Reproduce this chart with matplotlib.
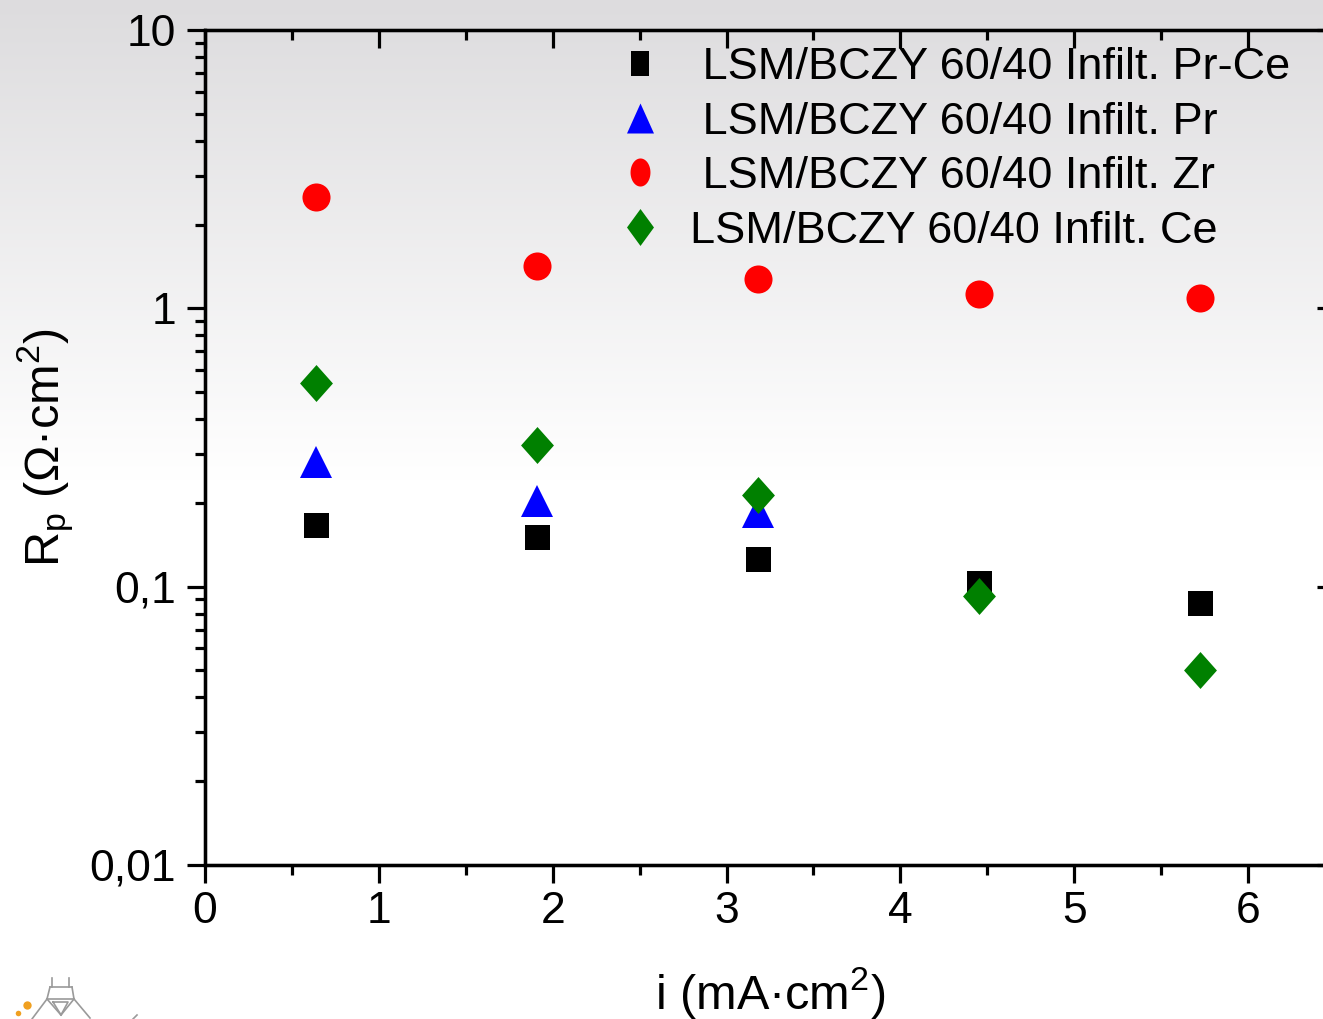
import numpy as np
import matplotlib
matplotlib.use('Agg')
import matplotlib.pyplot as plt
from matplotlib.path import Path
from matplotlib.lines import Line2D
from matplotlib.ticker import FixedLocator, FixedFormatter, LogLocator, MultipleLocator, NullFormatter

plt.rcParams['font.family'] = ['Liberation Sans', 'DejaVu Sans']
plt.rcParams['mathtext.fontset'] = 'custom'
plt.rcParams['mathtext.rm'] = 'Liberation Sans'
plt.rcParams['mathtext.it'] = 'Liberation Sans:italic'
plt.rcParams['mathtext.bf'] = 'Liberation Sans:bold'

# ---------------- data ----------------
current_density = [0.636, 1.908, 3.18, 4.452, 5.724]
current_density_pr = [0.636, 1.908, 3.18]
rp_pr_ce = [0.167, 0.151, 0.126, 0.103, 0.0874]
rp_pr = [0.28, 0.203, 0.185]
rp_zr = [2.51, 1.42, 1.27, 1.13, 1.09]
rp_ce = [0.54, 0.323, 0.214, 0.0926, 0.0502]

series_labels = [' LSM/BCZY 60/40 Infilt. Pr-Ce',
                 ' LSM/BCZY 60/40 Infilt. Pr',
                 ' LSM/BCZY 60/40 Infilt. Zr',
                 'LSM/BCZY 60/40 Infilt. Ce']
x_ticks = [0, 1, 2, 3, 4, 5, 6]
x_tick_labels = ['0', '1', '2', '3', '4', '5', '6']
y_ticks = [0.01, 0.1, 1, 10]
y_tick_labels = ['0,01', '0,1', '1', '10']
x_label = 'i (mA·cm$^\\mathregular{2}$)'
y_label = 'R$_\\mathregular{p}$ (Ω·cm$^\\mathregular{2}$)'

W, H = 1323, 1019
fig = plt.figure(figsize=(W / 100, H / 100), dpi=100)

# background gradient
bg = fig.add_axes([0, 0, 1, 1], zorder=-10)
rows = np.arange(H)
t = np.clip(rows / 480.0, 0, 1)
top = np.array([221, 220, 222]) / 255.0
grad = top[None, :] * (1 - t[:, None]) + np.ones(3)[None, :] * t[:, None]
bg.imshow(grad[:, None, :], aspect='auto', extent=[0, 1, 0, 1], origin='upper')
bg.axis('off')

# logo decoration (partially cropped at the bottom-left)
lg = fig.add_axes([0, 0, 1, 1], zorder=-5)
lg.set_xlim(0, W)
lg.set_ylim(H, 0)
lg.axis('off')
logo_segments = [
    ([52, 52], [978, 987]), ([69, 69], [978, 987]),
    ([50, 72], [987, 987]), ([50, 47], [987, 999]), ([72, 74], [987, 999]),
    ([47, 74], [999, 999]),
    ([53, 68, 61, 53], [1002, 1002, 1015, 1002]),
    ([47, 32], [999, 1019]), ([74, 90], [999, 1018]),
    ([47, 61], [999, 1015]), ([74, 61], [999, 1015]),
]
for xs, ys in logo_segments:
    lg.plot(xs, ys, color='#9a9a9a', lw=1.2)
lg.plot([27], [1005], 'o', color='#f0a020', ms=6, mew=0)
lg.plot([18], [1013], 'o', color='#f0a020', ms=4, mew=0)
lg.plot([133, 137], [1019, 1015], color='#9a9a9a', lw=1.2)

# main axes
L, R, T, B = 205, 1335, 30, 865
ax = fig.add_axes([L / W, (H - B) / H, (R - L) / W, (B - T) / H], zorder=1)
ax.set_facecolor('none')
ax.set_yscale('log')
ax.set_xlim(0, 6.5)
ax.set_ylim(0.01, 10)

diamond = Path([(0, 1), (0.89, 0), (0, -1), (-0.89, 0), (0, 1)])
ax.plot(current_density, rp_pr_ce, ls='none', marker='s', ms=18, color='black', mew=0, zorder=3)
ax.plot(current_density_pr, rp_pr, ls='none', marker='^', ms=23, color='#0000ff', mew=0, zorder=3)
ax.plot(current_density, rp_zr, ls='none', marker='o', ms=20.2, color='#ff0000', mew=0, zorder=3)
ax.plot(current_density, rp_ce, ls='none', marker=diamond, ms=26.6, color='#008000', mew=0, zorder=3)

lw = 2.3
for s in ax.spines.values():
    s.set_linewidth(lw)

ax.xaxis.set_major_locator(FixedLocator(x_ticks))
ax.xaxis.set_major_formatter(FixedFormatter(x_tick_labels))
ax.xaxis.set_minor_locator(MultipleLocator(0.5))
ax.yaxis.set_major_locator(FixedLocator(y_ticks))
ax.yaxis.set_major_formatter(FixedFormatter(y_tick_labels))
ax.yaxis.set_minor_locator(LogLocator(base=10, subs=np.arange(2, 10)))
ax.yaxis.set_minor_formatter(NullFormatter())

ax.tick_params(which='major', direction='out', length=13, width=lw, labelsize=32,
               top=False, right=False)
ax.tick_params(which='minor', direction='out', length=7.2, width=lw, top=False, right=False)
ax.tick_params(axis='x', which='major', pad=6)
ax.tick_params(axis='y', which='major', pad=8)

# top / right inward ticks
axt = ax.twiny()
axt.set_xlim(ax.get_xlim())
axt.xaxis.set_major_locator(FixedLocator(x_ticks))
axt.xaxis.set_minor_locator(MultipleLocator(0.5))
axt.tick_params(which='major', direction='in', length=13, width=lw, labeltop=False)
axt.tick_params(which='minor', direction='in', length=7.2, width=lw)
axr = ax.twinx()
axr.set_yscale('log')
axr.set_ylim(ax.get_ylim())
axr.yaxis.set_major_locator(FixedLocator(y_ticks))
axr.yaxis.set_minor_locator(LogLocator(base=10, subs=np.arange(2, 10)))
axr.yaxis.set_minor_formatter(NullFormatter())
axr.tick_params(which='major', direction='in', length=13, width=lw, labelright=False)
axr.tick_params(which='minor', direction='in', length=7.2, width=lw)
for a in (axt, axr):
    for s in a.spines.values():
        s.set_linewidth(lw)

ax.set_xlabel(x_label, fontsize=35)
ax.xaxis.set_label_coords(0.5, -0.120)
ax.set_ylabel(y_label, fontsize=35)
ax.yaxis.set_label_coords(-0.114, 0.5)

# legend with horizontally compressed markers (as in the reference)
leg_square = Path([(-0.72, -1), (0.72, -1), (0.72, 1), (-0.72, 1), (-0.72, -1)])
leg_tri = Path([(0, 1), (-0.9, -1), (0.9, -1), (0, 1)])
theta = np.linspace(0, 2 * np.pi, 60)
leg_ell = Path(np.column_stack([0.71 * np.cos(theta), np.sin(theta)]))
leg_dia = Path([(0, 1), (0.73, 0), (0, -1), (-0.73, 0), (0, 1)])
handles = [
    Line2D([], [], ls='none', marker=leg_square, ms=18, color='black', mew=0),
    Line2D([], [], ls='none', marker=leg_tri, ms=21.6, color='#0000ff', mew=0),
    Line2D([], [], ls='none', marker=leg_ell, ms=20.2, color='#ff0000', mew=0),
    Line2D([], [], ls='none', marker=leg_dia, ms=26.6, color='#008000', mew=0),
]
ax.legend(handles, series_labels, loc='upper left',
          bbox_to_anchor=(617.5 / W, (H - 47) / H), bbox_transform=fig.transFigure,
          frameon=False, fontsize=32.5, borderpad=0, borderaxespad=0,
          handlelength=1.0, handletextpad=0.61, labelspacing=0.30, numpoints=1)

fig.savefig('out.png', dpi=100)
